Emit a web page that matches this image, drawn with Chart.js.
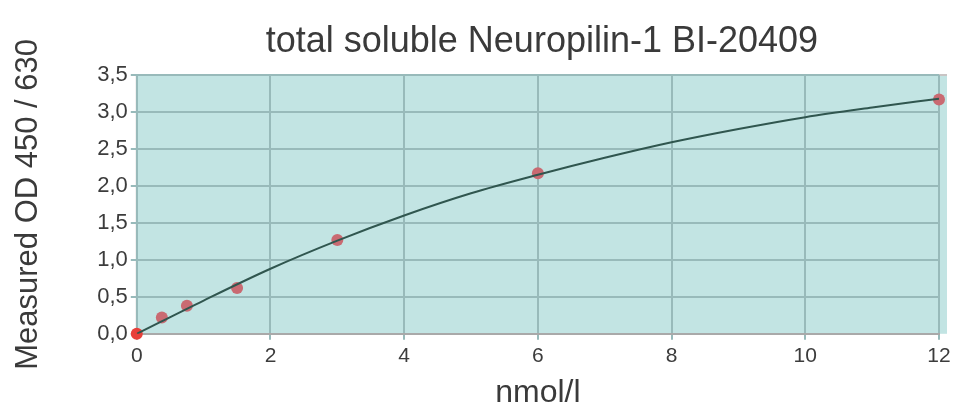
<!DOCTYPE html>
<html>
<head>
<meta charset="utf-8">
<script src="https://cdn.jsdelivr.net/npm/chart.js@4"></script>
<style>
  html, body { margin: 0; padding: 0; background: #fff; }
  #wrap { width: 976px; height: 409px; }
</style>
</head>
<body>
<div id="wrap"><canvas id="chart" width="976" height="409"></canvas></div>
<script>
// measured standards
const concX = [0, 0.375, 0.75, 1.5, 3, 6, 12];
const odY = [0.0, 0.22, 0.38, 0.62, 1.27, 2.17, 3.17];

// fitted curve
const curveX = [0, 1, 2, 3, 4, 5, 6, 7, 8, 9, 10, 11, 12];
const curveY = [0.0, 0.45, 0.88, 1.26, 1.6, 1.9, 2.15, 2.38, 2.59, 2.77, 2.93, 3.06, 3.18];

const xTicks = [0, 2, 4, 6, 8, 10, 12];
const yTicks = [0, 0.5, 1, 1.5, 2, 2.5, 3, 3.5];

const chartTitle = 'total soluble Neuropilin-1 BI-20409';
const font = "'Liberation Sans', Arial, sans-serif";

// teal plot background + title centred over the plot
const plotBg = {
  id: 'plotBg',
  beforeDraw(chart) {
    const a = chart.chartArea;
    const ctx = chart.ctx;
    ctx.save();
    ctx.fillStyle = '#c2e4e3';
    ctx.fillRect(a.left, a.top, a.right - a.left + 8, a.bottom - a.top);
    ctx.strokeStyle = '#c9c4c4';
    ctx.lineWidth = 2;
    ctx.beginPath();
    ctx.moveTo(a.left, a.bottom);
    ctx.lineTo(a.left, a.top);
    ctx.lineTo(a.right + 8, a.top);
    ctx.stroke();
    ctx.restore();
  },
  afterDraw(chart) {
    const a = chart.chartArea;
    const ctx = chart.ctx;
    ctx.save();
    ctx.fillStyle = '#3a3a3a';
    ctx.font = '36px ' + font;
    ctx.textAlign = 'center';
    ctx.textBaseline = 'middle';
    ctx.fillText(chartTitle, (a.left + a.right + 8) / 2, 42);
    ctx.restore();
  }
};

new Chart(document.getElementById('chart'), {
  type: 'scatter',
  data: {
    datasets: [
      {
        type: 'line',
        data: curveX.map((x, i) => ({ x: x, y: curveY[i] })),
        borderColor: '#30564f',
        borderWidth: 2,
        pointRadius: 0,
        cubicInterpolationMode: 'monotone',
        fill: false
      },
      {
        data: concX.map((x, i) => ({ x: x, y: odY[i] })),
        backgroundColor: concX.map((x) => x === 0 ? '#e8403a' : '#c96a72'),
        borderWidth: 0,
        pointRadius: 6,
        clip: false
      }
    ]
  },
  options: {
    responsive: false,
    animation: false,
    layout: { padding: { top: 75, right: 37, left: 0, bottom: 0 } },
    plugins: {
      legend: { display: false },
      tooltip: { enabled: false },
      title: { display: false }
    },
    scales: {
      x: {
        type: 'linear',
        min: 0,
        max: 12,
        afterBuildTicks: (s) => { s.ticks = xTicks.map((v) => ({ value: v })); },
        ticks: { color: '#3c3c3c', font: { family: font, size: 21 }, padding: 4 },
        grid: { color: '#98baba', lineWidth: 2, tickLength: 6, drawTicks: true },
        border: { color: '#a9a9a9', width: 2 },
        title: {
          display: true,
          text: 'nmol/l',
          color: '#3a3a3a',
          font: { family: font, size: 32, lineHeight: 1 },
          padding: { top: 4, bottom: 0 }
        }
      },
      y: {
        min: 0,
        max: 3.5,
        afterBuildTicks: (s) => { s.ticks = yTicks.map((v) => ({ value: v })); },
        ticks: {
          color: '#3c3c3c',
          font: { family: font, size: 22 },
          padding: 3,
          callback: (v) => v.toFixed(1).replace('.', ',')
        },
        grid: { color: '#98baba', lineWidth: 2, tickLength: 6 },
        border: { display: false },
        title: {
          display: true,
          text: 'Measured OD 450 / 630',
          color: '#3a3a3a',
          font: { family: font, size: 31, lineHeight: 1.2 },
          padding: { top: 10, bottom: 47 }
        }
      }
    }
  },
  plugins: [plotBg]
});
</script>
</body>
</html>
